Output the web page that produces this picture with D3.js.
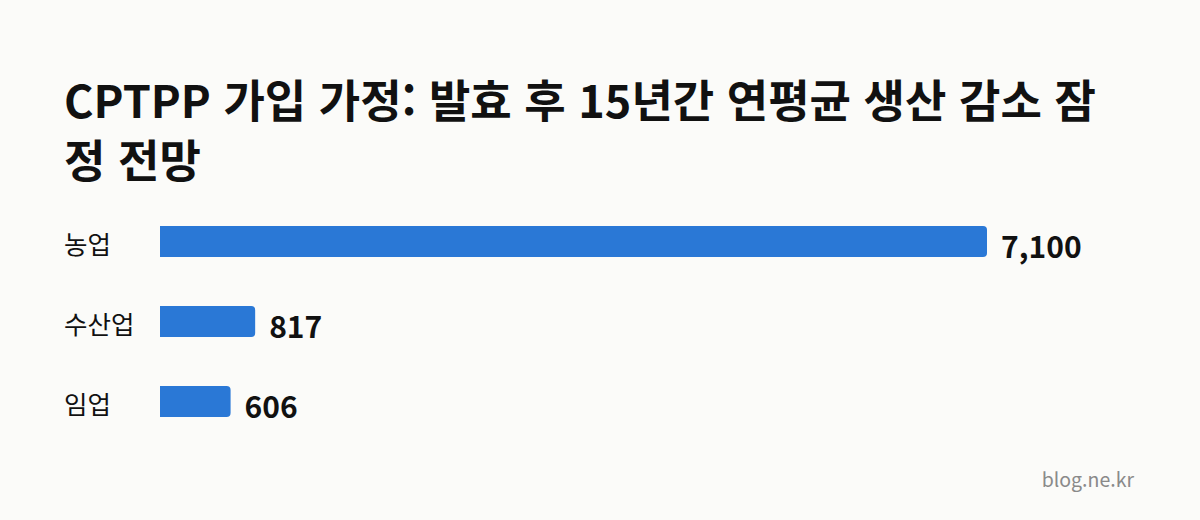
<!DOCTYPE html>
<html lang="ko">
<head>
<meta charset="utf-8">
<script src="https://cdn.jsdelivr.net/npm/d3@7/dist/d3.min.js"></script>
<style>
  html, body { margin: 0; padding: 0; background: #fbfbf9; }
  svg { display: block; font-family: "Noto Sans CJK KR", "Noto Sans", sans-serif; }
</style>
</head>
<body>
<svg id="chart" width="1200" height="520"></svg>
<script>
const titleLines = ["CPTPP 가입 가정: 발효 후 15년간 연평균 생산 감소 잠", "정 전망"];
const categories = ["농업", "수산업", "임업"];
const values = [7100, 817, 606];
const watermark = "blog.ne.kr";

const W = 1200, H = 520;
const svg = d3.select("#chart");
svg.append("rect").attr("width", W).attr("height", H).attr("fill", "#fbfbf9");

// Title
svg.append("text")
  .attr("x", 64).attr("y", 118)
  .attr("font-size", 45).attr("font-weight", 700).attr("fill", "#111")
  .selectAll("tspan").data(titleLines).join("tspan")
  .attr("x", 64).attr("dy", (d, i) => i === 0 ? 0 : 60)
  .text(d => d);

const x = d3.scaleLinear().domain([0, 7100]).range([160, 987]);
const y = d3.scaleBand().domain(categories).range([226, 417]).paddingInner(0.6125).paddingOuter(0);

const data = categories.map((c, i) => ({ c, v: values[i] }));

function rightRounded(x0, y0, w, h, r) {
  r = Math.min(r, w / 2, h / 2);
  return `M${x0},${y0}H${x0 + w - r}Q${x0 + w},${y0} ${x0 + w},${y0 + r}V${y0 + h - r}Q${x0 + w},${y0 + h} ${x0 + w - r},${y0 + h}H${x0}Z`;
}

svg.append("g").selectAll("path").data(data).join("path")
  .attr("d", d => rightRounded(x(0), y(d.c), x(d.v) - x(0), y.bandwidth(), 4))
  .attr("fill", "#2a78d6");

// Category labels
svg.append("g").selectAll("text").data(data).join("text")
  .attr("x", 64)
  .attr("y", d => y(d.c) + y.bandwidth() / 2 + 12)
  .attr("font-size", 25.5).attr("font-weight", 400).attr("fill", "#111")
  .text(d => d.c);

// Value labels
const fmt = d3.format(",");
svg.append("g").selectAll("text").data(data).join("text")
  .attr("x", d => x(d.v) + 14)
  .attr("y", d => y(d.c) + y.bandwidth() / 2 + 16)
  .attr("font-size", 30).attr("font-weight", 700).attr("fill", "#111")
  .text(d => fmt(d.v));

// Watermark
svg.append("text")
  .attr("x", 1134).attr("y", 487)
  .attr("text-anchor", "end")
  .attr("font-size", 19.5).attr("fill", "#8a8a8a")
  .text(watermark);
</script>
</body>
</html>
